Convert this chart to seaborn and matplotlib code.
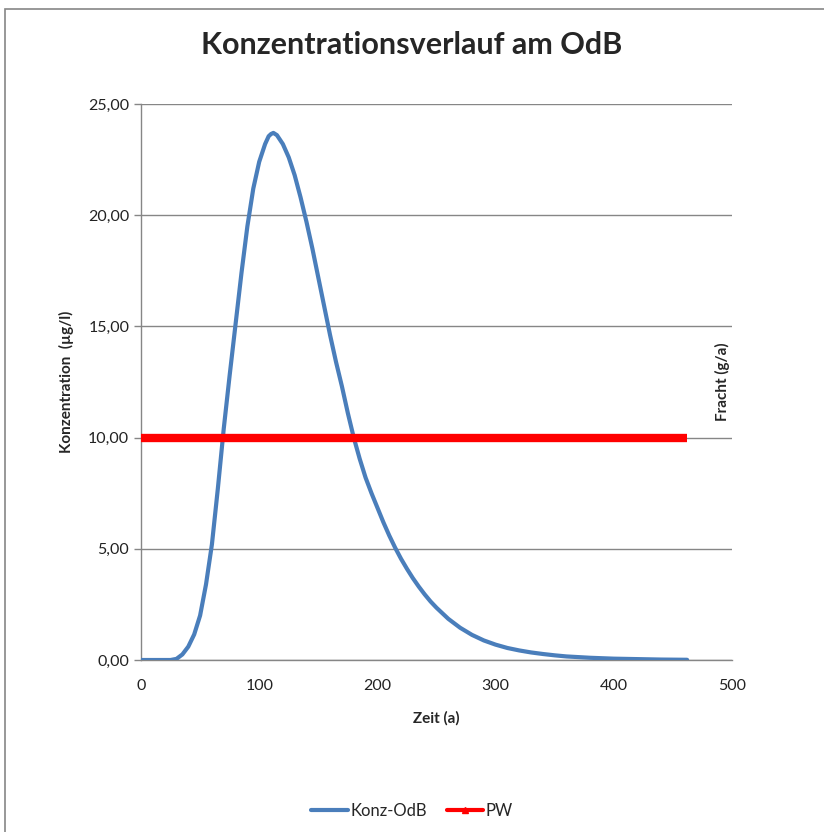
import matplotlib
matplotlib.use("Agg")
import matplotlib.pyplot as plt
from matplotlib.lines import Line2D
from matplotlib.patches import Rectangle
from matplotlib.ticker import FuncFormatter
import seaborn as sns

# values
zeit = [0, 10, 20, 25, 30, 35, 40, 45, 50, 55, 60, 65, 70, 75, 80, 85, 90, 95,
        100, 105, 108, 110, 112, 115, 120, 125, 130, 135, 140, 145, 150, 155,
        160, 165, 170, 175, 180, 185, 190, 195, 200, 205, 210, 215, 220, 225,
        230, 235, 240, 245, 250, 260, 270, 280, 290, 300, 310, 320, 330, 340,
        350, 360, 370, 380, 390, 400, 420, 440, 462]
konz_odb = [0.0, 0.0, 0.0, 0.0, 0.05, 0.25, 0.6, 1.15, 2.0, 3.4, 5.2, 7.7, 10.4,
            12.8, 15.1, 17.4, 19.5, 21.2, 22.4, 23.2, 23.55, 23.65, 23.7, 23.6,
            23.2, 22.6, 21.8, 20.8, 19.7, 18.5, 17.2, 15.9, 14.6, 13.4, 12.3,
            11.1, 10.0, 9.05, 8.2, 7.5, 6.85, 6.2, 5.6, 5.05, 4.55, 4.1, 3.68,
            3.3, 2.95, 2.63, 2.35, 1.85, 1.45, 1.13, 0.88, 0.69, 0.54, 0.43,
            0.34, 0.27, 0.21, 0.16, 0.13, 0.10, 0.08, 0.06, 0.04, 0.02, 0.01]
pw_zeit = [0, 462]
pw_wert = [10.0, 10.0]

x_ticks = [0, 100, 200, 300, 400, 500]
y_ticks = [0, 5, 10, 15, 20, 25]

blau = "#4A7EBB"
rot = "#FF0000"
grau = "#868686"

sns.set_style("white")
plt.rcParams['font.family'] = ['Lato', 'DejaVu Sans']

fig = plt.figure(figsize=(8.24, 8.32), dpi=100)
fig.patches.append(Rectangle((5 / 824, -0.1), 1.1, 1 - 9 / 832 + 0.1,
                             transform=fig.transFigure, fill=False,
                             edgecolor=grau, lw=1.2))
ax = fig.add_axes([141 / 824, 1 - 660 / 832, (732 - 141) / 824, (660 - 104) / 832])

sns.lineplot(x=zeit, y=konz_odb, ax=ax, color=blau, lw=3.0, zorder=3)
sns.lineplot(x=pw_zeit, y=pw_wert, ax=ax, color=rot, lw=6.0, zorder=4,
             solid_capstyle='butt')

ax.set_xlim(0, 500)
ax.set_ylim(0, 25)
ax.set_xticks(x_ticks)
ax.set_yticks(y_ticks)
ax.yaxis.set_major_formatter(FuncFormatter(lambda v, p: f"{v:.2f}".replace(".", ",")))
ax.tick_params(axis='both', direction='out', length=5, color=grau, labelsize=11.5,
               labelcolor='#222222', width=1)
ax.tick_params(axis='x', pad=9)
ax.grid(axis='y', color=grau, lw=1)
for s in ['top', 'right']:
    ax.spines[s].set_visible(False)
for s in ['left', 'bottom']:
    ax.spines[s].set_color(grau)
    ax.spines[s].set_linewidth(1)

ax.set_xlabel("Zeit (a)", fontsize=11, fontweight='bold', labelpad=13)
ax.set_ylabel("Konzentration  (µg/l)", fontsize=11, fontweight='bold', labelpad=10)
ax2 = ax.twinx()
ax2.set_yticks([])
for s in ax2.spines.values():
    s.set_visible(False)
ax2.set_ylabel("Fracht (g/a)", fontsize=11, fontweight='bold', labelpad=-12)

fig.text(0.5, 1 - 45 / 832, "Konzentrationsverlauf am OdB", ha='center',
         va='center', fontsize=22, fontweight='bold')

handles = [Line2D([], [], color=blau, lw=3.0),
           Line2D([], [], color=rot, lw=3.0, marker='^', markersize=5)]
fig.legend(handles, ["Konz-OdB", "PW"], loc='center', bbox_to_anchor=(0.5, 1 - 811 / 832),
           ncol=2, frameon=False, fontsize=12, handlelength=2.2, handletextpad=0.15,
           columnspacing=1.2)

fig.savefig("out.png", dpi=100)
